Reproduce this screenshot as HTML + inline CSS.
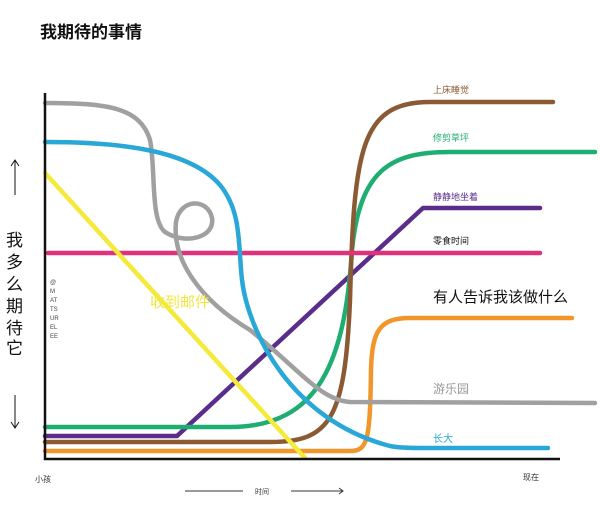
<!DOCTYPE html>
<html><head><meta charset="utf-8"><style>
body{margin:0;background:#fff;width:600px;height:508px;overflow:hidden}
svg text{font-family:"Liberation Sans","Noto Sans CJK SC",sans-serif}
</style></head><body>
<svg width="600" height="508" viewBox="0 0 600 508" xmlns="http://www.w3.org/2000/svg">
<text x="40" y="38" font-size="17" font-weight="bold" fill="#111">我期待的事情</text>
<g fill="none" stroke-width="4.5" stroke-linecap="round" stroke-linejoin="round">
<path d="M45,436 L177,436 L423,208 L540,208" stroke="#5b2d8a"/>
<path d="M45,427 L230,427 C320,427 345,360 352,250 C360,170 390,152 450,152 L595,152" stroke="#1fae72"/>
<path d="M45,442 L270,442 C330,442 345,420 350,300 C354,150 360,102 430,102 L553,102" stroke="#8b5a35"/>
<path d="M45,451 L350,451 C368,451 370,440 371,370 C372,330 380,318 410,318 L572,318" stroke="#f0962a"/>
<path d="M48,253 L540,253" stroke="#e0327a"/>
<path d="M45,173 L305,458" stroke="#f5e93a"/>
<path d="M45,103 C110,103 140,108 150,140 C156,170 150,220 165,232 C185,245 215,238 212,218 C208,198 180,198 176,222 C172,260 200,300 250,330 C300,370 320,400 350,402 L595,403" stroke="#a0a0a0"/>
<path d="M45,142 C120,142 190,150 220,185 C242,212 238,245 242,280 C248,330 290,420 390,446 C400,448 410,448 420,448 L548,448" stroke="#29a8d8"/>
</g>
<path d="M45,93 L45,459 L560,459" fill="none" stroke="#111" stroke-width="2.5"/>
<g font-size="9">
<text x="433" y="93" fill="#8b5a35">上床睡觉</text>
<text x="433" y="141" fill="#1fae72">修剪草坪</text>
<text x="433" y="200" fill="#5b2d8a">静静地坐着</text>
<text x="433" y="244" fill="#111">零食时间</text>
<text x="433" y="442" fill="#29a8d8" font-size="10">长大</text>
</g>
<text x="433" y="302" font-size="15" fill="#111">有人告诉我该做什么</text>
<text x="433" y="393" font-size="12" fill="#999">游乐园</text>
<text x="150" y="307" font-size="15" fill="#f0e640">收到邮件</text>
<g font-size="17" fill="#111">
<text x="6" y="246">我</text><text x="6" y="268">多</text><text x="6" y="290">么</text><text x="6" y="312">期</text><text x="6" y="334">待</text><text x="6" y="354">它</text>
</g>
<path d="M15,195 L15,160 M11,166 L15,160 L19,166" stroke="#111" fill="none" stroke-width="1"/>
<path d="M15,395 L15,428 M11,422 L15,428 L19,422" stroke="#111" fill="none" stroke-width="1"/>
<g font-size="6" fill="#444">
<text x="50" y="284">@</text><text x="50" y="293">M</text><text x="50" y="302">AT</text><text x="50" y="311">TS</text><text x="50" y="320">UR</text><text x="50" y="329">EL</text><text x="50" y="338">EE</text>
</g>
<text x="35" y="482" font-size="8" fill="#333">小孩</text>
<text x="523" y="480" font-size="8" fill="#333">现在</text>
<text x="255" y="494" font-size="7" fill="#333">时间</text>
<path d="M185,491 L243,491 M291,491 L343,491 M339,488 L343,491 L339,494" stroke="#333" fill="none" stroke-width="1"/>
</svg>
</body></html>
